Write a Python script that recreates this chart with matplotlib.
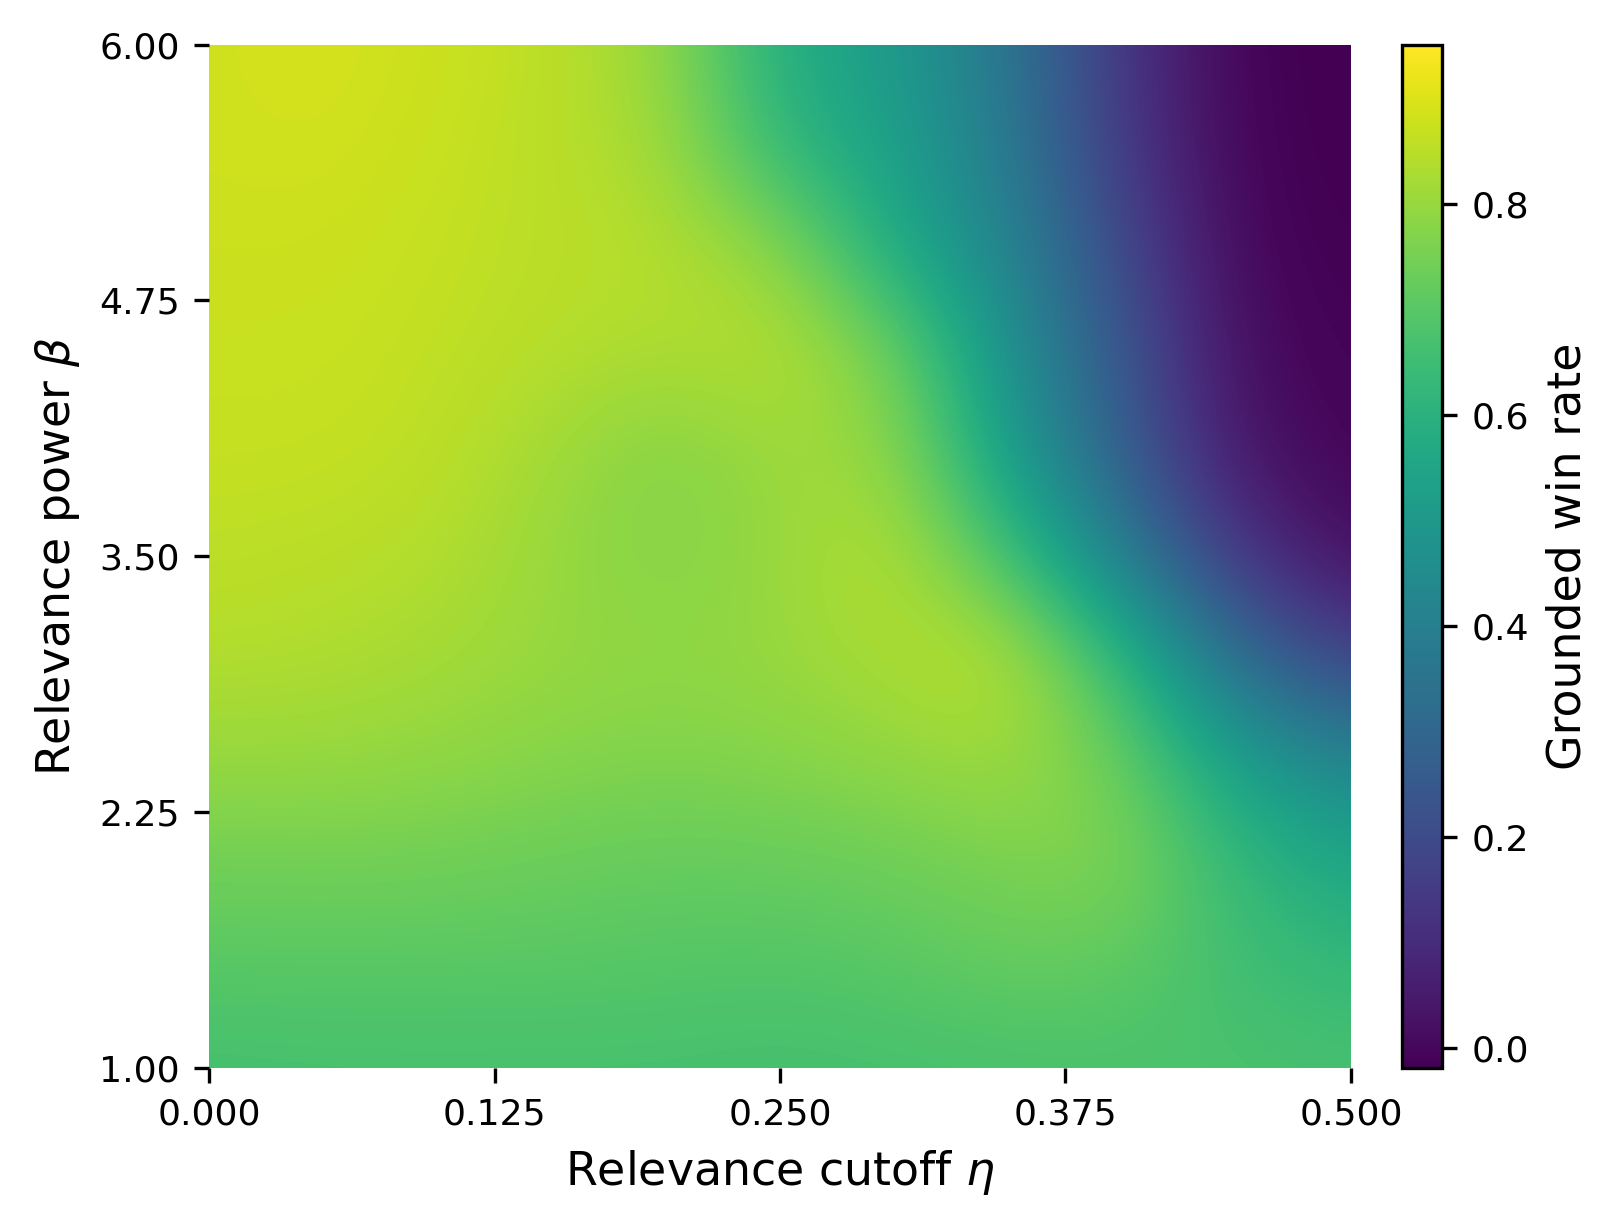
import numpy as np
import matplotlib.pyplot as plt

# grid of the sweep
eta = np.array([0.0, 0.05, 0.10, 0.15, 0.20, 0.25, 0.30, 0.35, 0.40, 0.45, 0.50])
beta = np.array([6.0, 5.5, 5.0, 4.5, 4.0, 3.5, 3.0, 2.5, 2.0, 1.5, 1.0])

# grounded win rate, rows follow beta (top to bottom), columns follow eta
win_rate = np.array([
    [0.880, 0.890, 0.875, 0.855, 0.800, 0.580, 0.510, 0.360, 0.130, -0.017, -0.019],
    [0.880, 0.885, 0.870, 0.850, 0.820, 0.620, 0.530, 0.380, 0.140, -0.012, -0.019],
    [0.875, 0.875, 0.865, 0.850, 0.845, 0.790, 0.570, 0.420, 0.190, -0.005, -0.017],
    [0.870, 0.870, 0.860, 0.845, 0.830, 0.850, 0.750, 0.470, 0.240, 0.010, -0.012],
    [0.865, 0.865, 0.855, 0.815, 0.765, 0.810, 0.800, 0.520, 0.270, 0.030, -0.008],
    [0.855, 0.850, 0.840, 0.800, 0.770, 0.800, 0.850, 0.670, 0.390, 0.130, 0.010],
    [0.840, 0.835, 0.820, 0.800, 0.790, 0.800, 0.830, 0.860, 0.630, 0.320, 0.170],
    [0.800, 0.800, 0.790, 0.775, 0.765, 0.775, 0.790, 0.810, 0.740, 0.520, 0.420],
    [0.740, 0.745, 0.740, 0.730, 0.720, 0.725, 0.735, 0.760, 0.770, 0.630, 0.550],
    [0.700, 0.700, 0.700, 0.700, 0.695, 0.690, 0.700, 0.720, 0.710, 0.655, 0.625],
    [0.660, 0.665, 0.665, 0.665, 0.665, 0.660, 0.665, 0.670, 0.675, 0.675, 0.670],
])

xticks = [0.0, 0.125, 0.25, 0.375, 0.5]
yticks = [1.0, 2.25, 3.5, 4.75, 6.0]

fig = plt.figure(figsize=(5.41, 4.1), dpi=300)
ax = fig.add_axes([0.1288, 0.1317, 0.7036, 0.8321])
cax = fig.add_axes([0.8638, 0.1317, 0.0247, 0.8321])

dx = eta[1] - eta[0]
dy = beta[0] - beta[1]
im = ax.imshow(win_rate, origin="upper", cmap="viridis", aspect="auto",
               interpolation="bicubic", vmin=-0.019, vmax=0.951,
               extent=[eta[0] - dx / 2, eta[-1] + dx / 2,
                       beta[-1] - dy / 2, beta[0] + dy / 2])
ax.set_xlim(0, 0.5)
ax.set_ylim(1, 6)
ax.set_xticks(xticks)
ax.set_xticklabels([f"{t:.3f}" for t in xticks])
ax.set_yticks(yticks)
ax.set_yticklabels([f"{t:.2f}" for t in yticks])
for s in ax.spines.values():
    s.set_visible(False)
ax.tick_params(labelsize=8.7)
ax.set_xlabel(r"Relevance cutoff $\eta$", fontsize=11)
ax.set_ylabel(r"Relevance power $\beta$", fontsize=11)

cb = fig.colorbar(im, cax=cax)
cb.set_ticks([0.0, 0.2, 0.4, 0.6, 0.8])
cb.ax.tick_params(labelsize=8.7)
cb.set_label("Grounded win rate", fontsize=11)

fig.savefig("out.png", dpi=300)
